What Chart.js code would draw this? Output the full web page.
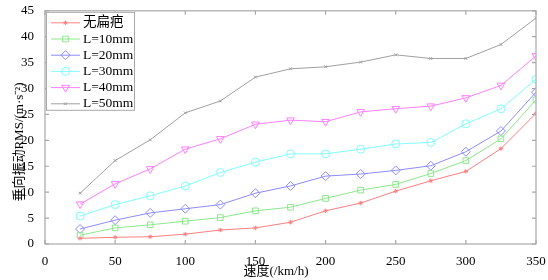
<!DOCTYPE html>
<html lang="zh">
<head>
  <meta charset="UTF-8" />
  <title>垂向振动RMS</title>
  <script src="https://cdn.jsdelivr.net/npm/chart.js"></script>
  <style>
    body { margin: 0; background: white; }
    #wrap { width: 548px; height: 280px; }
  </style>
</head>
<body>
  <div id="wrap"><canvas id="rmsChart" width="548" height="280"></canvas></div>

  <script>
    // speeds (km/h)
    const speeds = [25, 50, 75, 100, 125, 150, 175, 200, 225, 250, 275, 300, 325, 350];
    const seriesNames = ["无扁疤", "L=10mm", "L=20mm", "L=30mm", "L=40mm", "L=50mm"];
    const noFlat = [1.1, 1.3, 1.4, 1.9, 2.7, 3.1, 4.2, 6.4, 7.9, 10.2, 12.2, 14.0, 18.4, 25.2];
    const flat10 = [1.7, 3.1, 3.7, 4.4, 5.1, 6.4, 7.1, 8.8, 10.4, 11.5, 13.6, 16.1, 20.3, 27.8];
    const flat20 = [2.9, 4.6, 6.0, 6.8, 7.6, 9.8, 11.2, 13.1, 13.5, 14.2, 15.1, 17.8, 21.8, 29.3];
    const flat30 = [5.4, 7.6, 9.3, 11.2, 13.8, 15.8, 17.4, 17.4, 18.3, 19.3, 19.6, 23.2, 26.1, 31.8];
    const flat40 = [7.7, 11.6, 14.5, 18.3, 20.3, 23.1, 23.9, 23.6, 25.5, 26.1, 26.6, 28.2, 30.6, 36.3];
    const flat50 = [9.8, 16.1, 20.1, 25.3, 27.6, 32.2, 33.8, 34.2, 35.1, 36.5, 35.8, 35.8, 38.5, 43.6];
    const xTicks = [0, 50, 100, 150, 200, 250, 300, 350];
    const yTicks = [0, 5, 10, 15, 20, 25, 30, 35, 40, 45];
    const xTitle = "速度(/km/h)";
    const yTitle = "垂向振动RMS/(m·s⁻²)";

    const serifFont = "'Liberation Serif', 'Noto Sans CJK SC', serif";
    const colors = ["#ff8080", "#8ce88c", "#8c8cff", "#80ffff", "#ff80ff", "#a0a0a0"];
    const markers = [
      { style: "star", r: 2.2, rot: 0 },
      { style: "rect", r: 4, rot: 0 },
      { style: "rectRot", r: 4.5, rot: 0 },
      { style: "circle", r: 4, rot: 0 },
      { style: "triangle", r: 4.5, rot: 180 },
      { style: "crossRot", r: 2, rot: 0 }
    ];
    const values = [noFlat, flat10, flat20, flat30, flat40, flat50];

    const datasets = values.map((vals, i) => ({
      label: seriesNames[i],
      data: vals.map((v, k) => ({ x: speeds[k], y: v })),
      borderColor: colors[i],
      backgroundColor: "rgba(0,0,0,0)",
      borderWidth: 1,
      pointStyle: markers[i].style,
      pointRadius: markers[i].r,
      pointRotation: markers[i].rot,
      pointBorderColor: colors[i],
      pointBorderWidth: 1,
      tension: 0
    }));

    // box around the plot with inward ticks, axis titles, and the legend
    const frame = {
      id: "frame",
      afterDraw(chart) {
        const ctx = chart.ctx;
        const a = chart.chartArea;
        const xs = chart.scales.x, ys = chart.scales.y;
        ctx.save();
        ctx.strokeStyle = "#a8a8a8";
        ctx.lineWidth = 1.2;
        ctx.strokeRect(a.left, a.top, a.right - a.left, a.bottom - a.top);
        ctx.beginPath();
        xTicks.forEach(t => {
          const px = xs.getPixelForValue(t);
          ctx.moveTo(px, a.bottom); ctx.lineTo(px, a.bottom - 4);
          ctx.moveTo(px, a.top); ctx.lineTo(px, a.top + 4);
        });
        yTicks.forEach(t => {
          const py = ys.getPixelForValue(t);
          ctx.moveTo(a.left, py); ctx.lineTo(a.left + 4, py);
          ctx.moveTo(a.right, py); ctx.lineTo(a.right - 4, py);
        });
        ctx.stroke();

        // axis titles
        ctx.font = "13px " + serifFont;
        ctx.fillStyle = "black";
        ctx.textAlign = "center";
        ctx.textBaseline = "alphabetic";
        ctx.fillText(xTitle, 276, 275);
        ctx.save();
        ctx.setTransform(0, -1, 1, 0, 23, 142);
        ctx.fillText(yTitle, 0, 0);
        ctx.restore();

        // legend
        const lx = a.left + 1, ly = a.top + 1, lw = 88, lh = 98;
        ctx.fillStyle = "white";
        ctx.fillRect(lx, ly, lw, lh);
        ctx.strokeStyle = "#a8a8a8";
        ctx.lineWidth = 1;
        ctx.strokeRect(lx + 0.5, ly + 0.5, lw, lh);
        ctx.font = "13.5px " + serifFont;
        ctx.textBaseline = "middle";
        ctx.textAlign = "left";
        seriesNames.forEach((name, i) => {
          const y = ly + 11 + i * 16.2;
          ctx.strokeStyle = colors[i];
          ctx.lineWidth = 1;
          ctx.beginPath();
          ctx.moveTo(lx + 5, y); ctx.lineTo(lx + 34, y);
          ctx.stroke();
          ctx.fillStyle = "rgba(0,0,0,0)";
          Chart.helpers.drawPoint(ctx, {
            pointStyle: markers[i].style,
            radius: markers[i].r,
            rotation: markers[i].rot,
            borderWidth: 1
          }, lx + 19.5, y);
          ctx.fillStyle = "black";
          ctx.fillText(name, lx + 37, y);
        });
        ctx.restore();
      }
    };

    new Chart(document.getElementById("rmsChart"), {
      type: "line",
      data: { datasets },
      plugins: [frame],
      options: {
        responsive: false,
        animation: false,
        layout: { padding: { top: 10, right: 12, left: 0, bottom: 0 } },
        plugins: { legend: { display: false }, tooltip: { enabled: false } },
        scales: {
          x: {
            type: "linear",
            min: 0,
            max: 350,
            afterBuildTicks: s => { s.ticks = xTicks.map(v => ({ value: v })); },
            afterFit: s => { s.height = 36; },
            grid: { display: false },
            border: { display: false },
            ticks: { color: "black", font: { family: serifFont, size: 13 }, padding: 2, maxRotation: 0 }
          },
          y: {
            min: 0,
            max: 45,
            afterBuildTicks: s => { s.ticks = yTicks.map(v => ({ value: v })); },
            afterFit: s => { s.width = 45; },
            grid: { display: false },
            border: { display: false },
            ticks: { color: "black", font: { family: serifFont, size: 13 }, padding: 3 }
          }
        }
      }
    });
  </script>
</body>
</html>
